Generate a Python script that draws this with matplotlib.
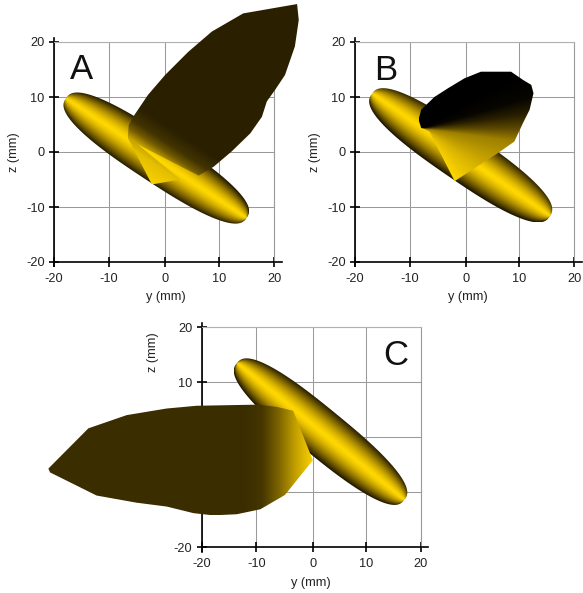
import numpy as np
import matplotlib
matplotlib.use("Agg")
import matplotlib.pyplot as plt
from matplotlib.patches import Polygon

plt.rcParams["font.family"] = ["Liberation Sans", "DejaVu Sans"]
plt.rcParams["axes.unicode_minus"] = False

W, H = 583, 593

# the 0 gridline sits a little right of centre in the original
x_tick_pos = [-20, -10, 0.25, 10, 20]
x_tick_labels = ["-20", "-10", "0", "10", "20"]
z_ticks = [-20, -10, 0, 10, 20]
panel_names = ["A", "B", "C"]

# ellipsoid: centre y, centre z, tilt (deg), half length, half width
ellipsoid_a = (-1.4, -1.1, -33.4, 19.7, 4.3)
ellipsoid_b = (-0.7, -0.6, -34.4, 19.7, 4.4)
ellipsoid_c = (1.7, 1.0, -39.1, 19.7, 4.3)

# lobe outlines in mm
lobe_a_y = [-6.6, -6.4, -5.4, -2.9, 0.2, 4.4, 8.7, 14.4, 24.2, 24.5, 23.8, 22.0, 20.2,
            18.7, 17.8, 15.7, 12.3, 9.0, 6.3, -4.8, 2.95, -2.2]
lobe_a_z = [2.6, 4.9, 6.7, 10.4, 14.0, 18.2, 21.9, 25.2, 26.9, 24.0, 19.2, 14.0, 11.3,
            9.2, 6.4, 3.4, 0.1, -2.7, -4.3, 1.4, -5.0, -5.9]
lobe_b_y = [-7.9, -8.4, -7.9, -5.5, -3.0, 0.0, 3.0, 8.5, 10.7, 12.2, 12.6, 11.9, 10.7,
            9.1, 6.1, -1.8, -6.4]
lobe_b_z = [4.35, 5.9, 7.7, 10.0, 11.6, 13.4, 14.6, 14.6, 13.1, 12.2, 10.7, 7.7, 5.3,
            1.9, -0.2, -5.3, 3.7]
lobe_c_y = [-48.0, -40.7, -33.7, -26.4, -20.9, -9.95, -6.3, -3.3, 0.3, -4.8, -9.3, -13.6,
            -17.9, -21.5, -26.4, -31.9, -39.2, -47.7]
lobe_c_z = [-5.7, 1.6, 4.0, 5.2, 5.7, 5.9, 5.5, 4.8, -4.2, -10.5, -13.1, -14.0,
            -14.2, -13.8, -12.6, -11.9, -10.6, -6.4]

# brightness stops of the lobes
shade_a_pos = [-4.0, -1.5, 0.0, 1.5, 3.0, 6.0]
shade_a_val = [0.165, 0.26, 0.45, 0.78, 0.9, 0.97]
fan_b_apex = (-7.6, 4.2)
shade_b_pos = [-60, -35, -8, 0, 8, 16, 30]
shade_b_val = [1.0, 0.85, 0.62, 0.36, 0.16, 0.03, 0.0]
shade_c_pos = [-12.0, -9.0, -6.0, -3.0, 0.5]
shade_c_val = [0.23, 0.27, 0.48, 0.75, 1.0]


def gold_rgb(f):
    # dark shades lean browner than a plain scaled gold
    return np.dstack([f, f * (0.76 + 0.083 * f), np.zeros_like(f)])


def make_axes(fig, left, top, right, bottom, xlabel_at, zlabel_at):
    ax = fig.add_axes([left / W, 1 - bottom / H, (right - left) / W, (bottom - top) / H])
    ax.set_xlim(-20, 20)
    ax.set_ylim(-20, 20)
    ax.set_xticks(x_tick_pos, x_tick_labels)
    ax.set_yticks(z_ticks)
    ax.set_axisbelow(True)
    ax.grid(color="#9a9a9a", linewidth=0.75)
    ax.tick_params(direction="inout", length=7.5, width=1.2, labelsize=9.2,
                   labelcolor="#222222")
    ax.tick_params(axis="x", pad=4)
    ax.tick_params(axis="y", pad=3)
    ax.spines["left"].set_linewidth(1.2)
    ax.spines["bottom"].set_linewidth(1.2)
    ax.spines["left"].set_bounds(-20.8, 20.7)
    ax.spines["bottom"].set_bounds(-20, 21.4)
    ax.spines["top"].set_color("#b0b0b0")
    ax.spines["right"].set_color("#9a9a9a")
    ax.set_xlabel("y (mm)", fontsize=9.2, color="#222222")
    ax.set_ylabel("z (mm)", fontsize=9.2, color="#222222")
    ax.xaxis.set_label_coords(*xlabel_at)
    ax.yaxis.set_label_coords(*zlabel_at)
    return ax


def draw_shaded(ax, outline_y, outline_z, shade_func, zorder):
    # image of the shade over the outline's box, cut to the outline
    y0, y1 = min(outline_y), max(outline_y)
    z0, z1 = min(outline_z), max(outline_z)
    yy, zz = np.meshgrid(np.linspace(y0, y1, 500), np.linspace(z0, z1, 500))
    rgb = gold_rgb(shade_func(yy, zz))
    im = ax.imshow(np.clip(rgb, 0, 1), extent=[y0, y1, z0, z1], origin="lower",
                   aspect="auto", interpolation="bilinear", zorder=zorder)
    patch = Polygon(np.column_stack([outline_y, outline_z]), closed=True,
                    transform=ax.transData, facecolor="none", edgecolor="none")
    im.set_clip_box(ax.figure.bbox)
    im.set_clip_path(patch)
    ax.set_xlim(-20, 20)
    ax.set_ylim(-20, 20)


def draw_ellipsoid(ax, params):
    cy, cz, tilt, half_len, half_wid = params
    a = np.radians(tilt)
    n = 2.6  # ends are blunter than a true ellipse

    t = np.linspace(0, 2 * np.pi, 240)
    u = np.sign(np.cos(t)) * np.abs(np.cos(t)) ** (2 / n) * half_len
    v = np.sign(np.sin(t)) * np.abs(np.sin(t)) ** (2 / n) * half_wid
    out_y = cy + u * np.cos(a) - v * np.sin(a)
    out_z = cz + u * np.sin(a) + v * np.cos(a)

    def shade(yy, zz):
        du = (yy - cy) * np.cos(a) + (zz - cz) * np.sin(a)
        dv = -(yy - cy) * np.sin(a) + (zz - cz) * np.cos(a)
        local = half_wid * np.clip(1 - np.abs(du / half_len) ** n, 1e-4, 1) ** (1 / n)
        r = np.clip(np.abs(dv) / local, 0, 1)
        return 0.12 + 0.88 * (1 - r ** 1.5)

    draw_shaded(ax, out_y, out_z, shade, 2)


def shade_a(yy, zz):
    s = -0.55 * yy - 0.83 * zz
    return np.interp(s, shade_a_pos, shade_a_val)


def shade_b(yy, zz):
    ang = np.degrees(np.arctan2(zz - fan_b_apex[1], yy - fan_b_apex[0]))
    return np.interp(ang, shade_b_pos, shade_b_val)


def shade_c(yy, zz):
    return np.interp(yy, shade_c_pos, shade_c_val)


fig = plt.figure(figsize=(W / 100, H / 100), dpi=100)

ax_a = make_axes(fig, 54, 42, 274, 262, (0.51, -0.132), (-0.155, 0.5))
draw_ellipsoid(ax_a, ellipsoid_a)
draw_shaded(ax_a, lobe_a_y, lobe_a_z, shade_a, 3)

ax_b = make_axes(fig, 355, 42, 574, 262, (0.516, -0.132), (-0.155, 0.5))
draw_ellipsoid(ax_b, ellipsoid_b)
draw_shaded(ax_b, lobe_b_y, lobe_b_z, shade_b, 3)

ax_c = make_axes(fig, 201.7, 327, 420.7, 547.3, (0.499, -0.135), (-0.195, 0.888))
draw_ellipsoid(ax_c, ellipsoid_c)
draw_shaded(ax_c, lobe_c_y, lobe_c_z, shade_c, 3)

# panel letters
letter_x = [70, 374, 383]
letter_y = [79, 80.5, 365]
for name, lx, ly in zip(panel_names, letter_x, letter_y):
    fig.text(lx / W, 1 - ly / H, name, fontsize=25, color="#111111", ha="left",
             va="baseline", zorder=10)

fig.savefig("out.png", dpi=100)
